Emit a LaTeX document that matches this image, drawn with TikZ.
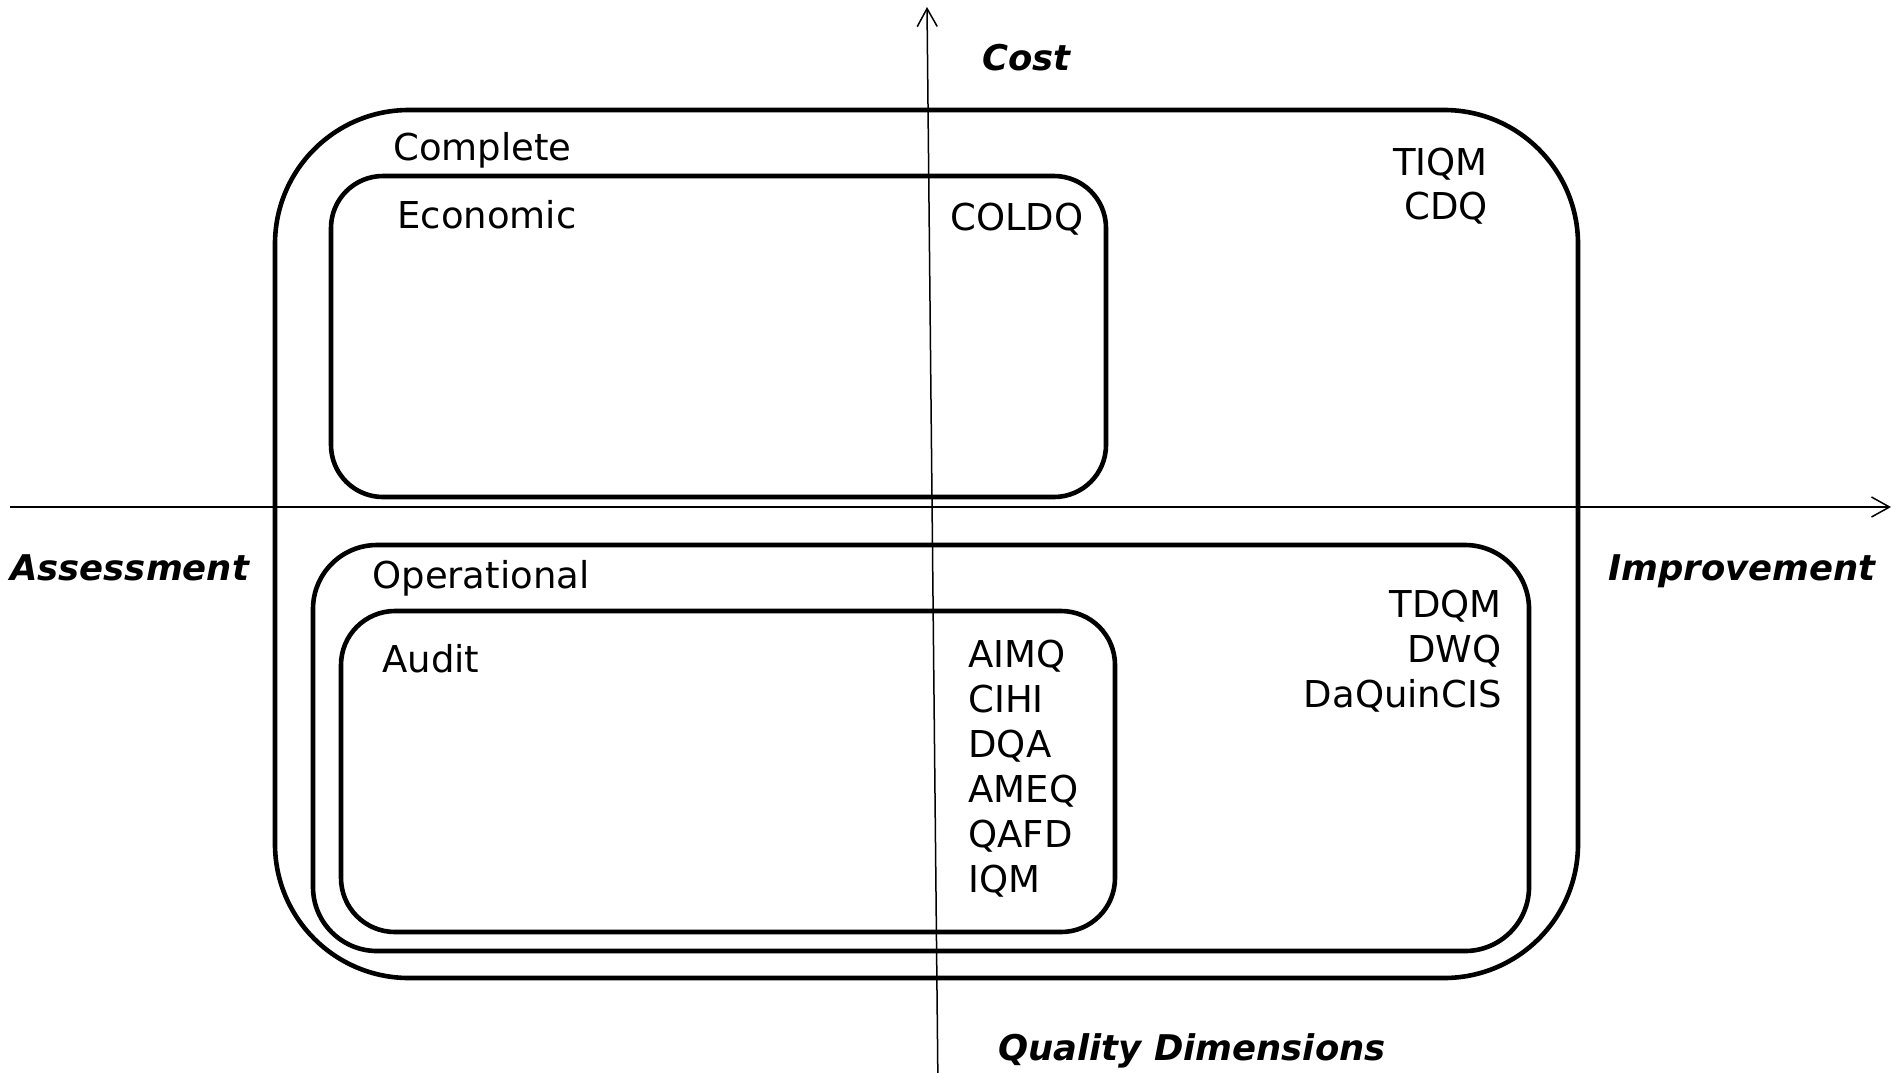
\documentclass[tikz,border=0pt]{standalone}
\usepackage{fontspec}
\setmainfont{DejaVu Sans}
\usetikzlibrary{arrows.meta,fit}

\tikzset{
  region/.style={draw, line width=2.3pt, inner sep=0pt},
  axis/.style={line width=0.75pt, -{Straight Barb[length=9pt,width=10pt,line width=0.75pt]}},
  lbl/.style={inner sep=0pt, font=\fontsize{18.5pt}{22pt}\selectfont},
  dim/.style={inner sep=0pt, font=\fontsize{17.7pt}{21pt}\selectfont\bfseries\itshape},
}

\begin{document}
\begin{tikzpicture}[x=0.5pt,y=-0.5pt]
\useasboundingbox (0,0) rectangle (1893,1072);

% nested groups of methodologies
\node[region, rounded corners=67pt, fit={(275,110) (1578,978)}] (complete) {};
\node[region, rounded corners=26pt, fit={(331,176) (1106,497)}] (economic) {};
\node[region, rounded corners=32pt, fit={(313,545) (1529,951)}] (operational) {};
\node[region, rounded corners=27pt, fit={(341,611) (1115,932)}] (audit) {};

% axes
\coordinate (ybot) at (938,1090);
\coordinate (ytop) at (927,7);
\coordinate (xleft) at (10,507);
\coordinate (xright) at (1891,507);
\draw[axis] (ybot) -- (ytop);
\draw[axis] (xleft) -- (xright);

% group names
\node[lbl, anchor=base west] (tcomplete) at (393,160) {Complete};
\node[lbl, anchor=base west] (teconomic) at (397,228) {Economic};
\node[lbl, anchor=base west] (toperational) at (372,588) {Operational};
\node[lbl, anchor=base west] (taudit) at (382,672) {Audit};

% methodologies
\node[lbl, anchor=base west] (coldq) at (950,230) {COLDQ};
\node[lbl, anchor=base east] (tiqm) at (1488,175) {TIQM};
\node[lbl, anchor=base east] (cdq) at (1488,219) {CDQ};

\node[lbl, anchor=base east] (tdqm) at (1502,617) {TDQM};
\node[lbl, anchor=base east] (dwq) at (1502,662) {DWQ};
\node[lbl, anchor=base east] (daquincis) at (1502,707) {DaQuinCIS};

\node[lbl, anchor=base west] (aimq) at (968,667) {AIMQ};
\node[lbl, anchor=base west] (cihi) at (968,712) {CIHI};
\node[lbl, anchor=base west] (dqa) at (968,757) {DQA};
\node[lbl, anchor=base west] (ameq) at (968,802) {AMEQ};
\node[lbl, anchor=base west] (qafd) at (968,847) {QAFD};
\node[lbl, anchor=base west] (iqm) at (968,892) {IQM};

% axis names
\node[dim, anchor=base west] (cost) at (982,70) {Cost};
\node[dim, anchor=base west] (assessment) at (10,580) {Assessment};
\node[dim, anchor=base west] (improvement) at (1608,580) {Improvement};
\node[dim, anchor=base west] (quality) at (998,1060) {Quality Dimensions};
\end{tikzpicture}
\end{document}
